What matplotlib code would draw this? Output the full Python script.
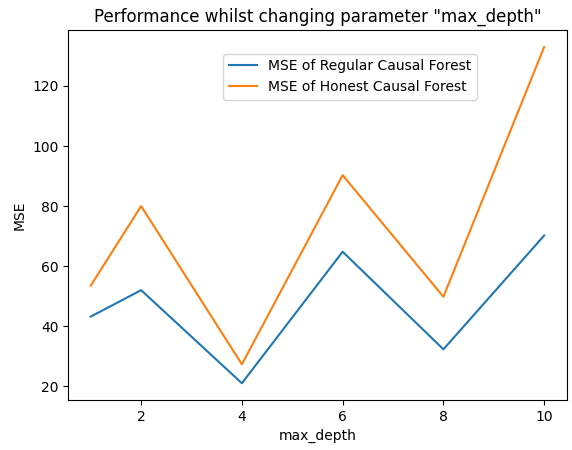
import matplotlib
matplotlib.use('Agg')
import matplotlib.pyplot as plt

max_depth = [1, 2, 4, 6, 8, 10]
mse_regular = [43.2, 52.0, 21.0, 64.8, 32.3, 70.2]
mse_honest = [53.5, 80.0, 27.3, 90.3, 49.8, 133.0]

fig = plt.figure(figsize=(5.72, 4.5), dpi=100)
ax = fig.add_axes([0.119, 0.111, 0.872, 0.822])
ax.plot(max_depth, mse_regular, label='MSE of Regular Causal Forest')
ax.plot(max_depth, mse_honest, label='MSE of Honest Causal Forest')
ax.set_xlabel('max_depth')
ax.set_ylabel('MSE')
ax.set_title('Performance whilst changing parameter "max_depth"')
ax.legend(loc='upper center', bbox_to_anchor=(0.565, 0.955))
fig.savefig('out.png')
